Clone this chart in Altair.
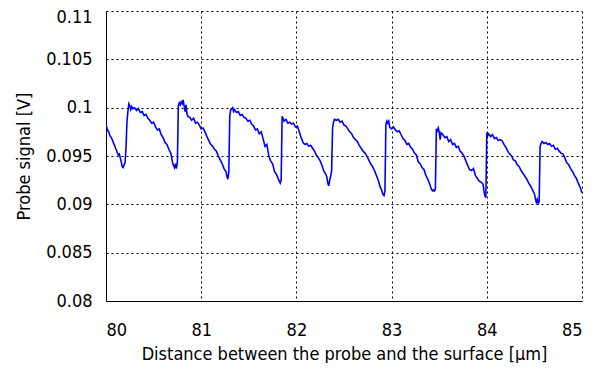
import altair as alt
import pandas as pd

xs = [80.00, 80.01, 80.02, 80.03, 80.04, 80.05, 80.06, 80.07, 80.08, 80.09,
      80.10, 80.11, 80.12, 80.13, 80.14, 80.15, 80.16, 80.17, 80.18, 80.19,
      80.20, 80.21, 80.22, 80.23, 80.24, 80.25, 80.26, 80.27, 80.28, 80.30,
      80.32, 80.34, 80.36, 80.38, 80.40, 80.42, 80.44, 80.46, 80.48, 80.50,
      80.52, 80.54, 80.56, 80.58, 80.60, 80.62, 80.64, 80.66, 80.68, 80.69,
      80.70, 80.71, 80.72, 80.73, 80.74, 80.75, 80.76, 80.77, 80.78, 80.79,
      80.80, 80.81, 80.82, 80.83, 80.84, 80.85, 80.86, 80.88, 80.90, 80.92,
      80.94, 80.96, 80.98, 81.00, 81.02, 81.04, 81.06, 81.08, 81.10, 81.12,
      81.14, 81.16, 81.18, 81.20, 81.22, 81.24, 81.26, 81.27, 81.28, 81.29,
      81.30, 81.31, 81.32, 81.33, 81.34, 81.35, 81.37, 81.39, 81.41, 81.43,
      81.45, 81.47, 81.49, 81.51, 81.53, 81.55, 81.57, 81.59, 81.61, 81.63,
      81.65, 81.67, 81.69, 81.71, 81.73, 81.75, 81.77, 81.79, 81.80, 81.81,
      81.82, 81.83, 81.84, 81.85, 81.86, 81.87, 81.89, 81.91, 81.93, 81.95,
      81.97, 81.99, 82.01, 82.03, 82.05, 82.07, 82.09, 82.11, 82.13, 82.15,
      82.17, 82.19, 82.21, 82.23, 82.25, 82.27, 82.29, 82.31, 82.32, 82.33,
      82.34, 82.35, 82.36, 82.37, 82.38, 82.39, 82.40, 82.42, 82.44, 82.46,
      82.48, 82.50, 82.52, 82.54, 82.56, 82.58, 82.60, 82.62, 82.64, 82.66,
      82.68, 82.70, 82.72, 82.74, 82.76, 82.78, 82.80, 82.82, 82.84, 82.86,
      82.88, 82.89, 82.90, 82.91, 82.92, 82.93, 82.94, 82.95, 82.96, 82.97,
      82.98, 83.00, 83.02, 83.04, 83.06, 83.08, 83.10, 83.12, 83.14, 83.16,
      83.18, 83.20, 83.22, 83.24, 83.26, 83.28, 83.30, 83.32, 83.34, 83.36,
      83.38, 83.40, 83.41, 83.42, 83.43, 83.44, 83.45, 83.46, 83.47, 83.48,
      83.49, 83.50, 83.51, 83.52, 83.54, 83.56, 83.58, 83.60, 83.62, 83.64,
      83.66, 83.68, 83.70, 83.72, 83.74, 83.76, 83.78, 83.80, 83.82, 83.84,
      83.86, 83.88, 83.90, 83.92, 83.94, 83.96, 83.97, 83.98, 83.99, 84.00,
      84.01, 84.02, 84.04, 84.06, 84.08, 84.10, 84.12, 84.14, 84.16, 84.18,
      84.20, 84.22, 84.24, 84.26, 84.28, 84.30, 84.32, 84.34, 84.36, 84.38,
      84.40, 84.42, 84.44, 84.46, 84.48, 84.50, 84.51, 84.52, 84.53, 84.54,
      84.55, 84.56, 84.57, 84.58, 84.60, 84.62, 84.64, 84.66, 84.68, 84.70,
      84.72, 84.74, 84.76, 84.78, 84.80, 84.82, 84.84, 84.86, 84.88, 84.90,
      84.92, 84.94, 84.96, 84.98, 85.00]

ys = [0.0982, 0.0979, 0.0976, 0.0975, 0.0971, 0.0970, 0.0968, 0.0966, 0.0963, 0.0961,
      0.0958, 0.0956, 0.0953, 0.0951, 0.0952, 0.0948, 0.0944, 0.0939, 0.0938, 0.0941,
      0.0943, 0.0958, 0.0985, 0.0996, 0.1004, 0.1002, 0.0998, 0.1001, 0.0999, 0.1000,
      0.0997, 0.0999, 0.0995, 0.0996, 0.0992, 0.0993, 0.0989, 0.0987, 0.0984, 0.0985,
      0.0980, 0.0977, 0.0978, 0.0972, 0.0969, 0.0964, 0.0962, 0.0957, 0.0953, 0.0948,
      0.0943, 0.0940, 0.0938, 0.0942, 0.0937, 0.0944, 0.1002, 0.1005, 0.1003, 0.1006,
      0.1004, 0.1008, 0.1002, 0.0996, 0.1003, 0.0994, 0.0991, 0.0990, 0.0987, 0.0989,
      0.0984, 0.0985, 0.0982, 0.0978, 0.0979, 0.0975, 0.0970, 0.0966, 0.0962, 0.0960,
      0.0957, 0.0955, 0.0950, 0.0946, 0.0942, 0.0937, 0.0934, 0.0929, 0.0926, 0.0933,
      0.0991, 0.0998, 0.0999, 0.1000, 0.0996, 0.0998, 0.0995, 0.0996, 0.0992, 0.0993,
      0.0990, 0.0989, 0.0986, 0.0987, 0.0983, 0.0981, 0.0977, 0.0978, 0.0973, 0.0975,
      0.0968, 0.0960, 0.0962, 0.0950, 0.0945, 0.0942, 0.0934, 0.0931, 0.0929, 0.0926,
      0.0924, 0.0922, 0.0925, 0.0991, 0.0989, 0.0986, 0.0988, 0.0984, 0.0985, 0.0983,
      0.0984, 0.0980, 0.0981, 0.0975, 0.0969, 0.0964, 0.0962, 0.0963, 0.0960, 0.0961,
      0.0958, 0.0955, 0.0951, 0.0948, 0.0945, 0.0940, 0.0934, 0.0931, 0.0928, 0.0922,
      0.0919, 0.0925, 0.0929, 0.0935, 0.0979, 0.0985, 0.0988, 0.0987, 0.0988, 0.0985,
      0.0986, 0.0982, 0.0981, 0.0978, 0.0975, 0.0973, 0.0969, 0.0967, 0.0965, 0.0961,
      0.0958, 0.0955, 0.0953, 0.0950, 0.0946, 0.0942, 0.0939, 0.0935, 0.0930, 0.0925,
      0.0918, 0.0916, 0.0913, 0.0910, 0.0909, 0.0914, 0.0983, 0.0986, 0.0984, 0.0986,
      0.0980, 0.0978, 0.0980, 0.0977, 0.0975, 0.0976, 0.0972, 0.0968, 0.0966, 0.0962,
      0.0963, 0.0959, 0.0957, 0.0953, 0.0951, 0.0944, 0.0942, 0.0938, 0.0936, 0.0930,
      0.0926, 0.0921, 0.0918, 0.0915, 0.0914, 0.0915, 0.0914, 0.0916, 0.0978, 0.0976,
      0.0979, 0.0975, 0.0967, 0.0974, 0.0972, 0.0969, 0.0970, 0.0965, 0.0967, 0.0962,
      0.0963, 0.0959, 0.0960, 0.0955, 0.0953, 0.0950, 0.0945, 0.0940, 0.0936, 0.0935,
      0.0937, 0.0930, 0.0927, 0.0924, 0.0923, 0.0921, 0.0914, 0.0909, 0.0907, 0.0974,
      0.0971, 0.0973, 0.0970, 0.0972, 0.0968, 0.0969, 0.0966, 0.0967, 0.0966, 0.0962,
      0.0959, 0.0955, 0.0952, 0.0950, 0.0946, 0.0945, 0.0941, 0.0939, 0.0935, 0.0932,
      0.0929, 0.0926, 0.0922, 0.0919, 0.0915, 0.0911, 0.0906, 0.0902, 0.0905, 0.0901,
      0.0903, 0.0960, 0.0963, 0.0965, 0.0963, 0.0964, 0.0962, 0.0963, 0.0960, 0.0961,
      0.0957, 0.0958, 0.0955, 0.0953, 0.0952, 0.0948, 0.0943, 0.0941, 0.0937, 0.0934,
      0.0930, 0.0927, 0.0922, 0.0918, 0.0912]

x_ticks = [80, 81, 82, 83, 84, 85]
y_ticks = [0.08, 0.085, 0.09, 0.095, 0.1, 0.105, 0.11]

df = pd.DataFrame({"x": xs, "y": ys})

FONT = "DejaVu Sans Condensed"

chart = alt.Chart(df).mark_line(color="#0000FF", strokeWidth=1.6, clip=True).encode(
    x=alt.X("x:Q",
            scale=alt.Scale(domain=[80, 85], nice=False, zero=False),
            axis=alt.Axis(values=x_ticks, title="Distance between the probe and the surface [μm]",
                          format="d", labelPadding=20,
                          titleBaseline="alphabetic", titleY=58)),
    y=alt.Y("y:Q",
            scale=alt.Scale(domain=[0.08, 0.11], nice=False, zero=False),
            axis=alt.Axis(values=y_ticks, title="Probe signal [V]", format=".3~f",
                          labelPadding=14, titlePadding=12,
                          labelOffset={"condition": {"test": "datum.value >= 0.1099", "value": 6},
                                       "value": 0})),
).properties(
    width=476, height=290,
    autosize=alt.AutoSizeParams(type="none"),
    padding={"left": 98, "top": 3, "right": 10, "bottom": 62},
).configure_view(
    stroke=None
).configure_axis(
    labelFont=FONT, titleFont=FONT,
    labelFontSize=18, titleFontSize=18,
    labelColor="black", titleColor="black",
    titleFontWeight="normal",
    domainColor="black", domainWidth=1,
    ticks=False,
    grid=True, gridColor="black", gridDash=[2, 3], gridOpacity=1, gridWidth=1,
)

chart.save("out.html", embed_options={"renderer": "svg", "actions": False})
